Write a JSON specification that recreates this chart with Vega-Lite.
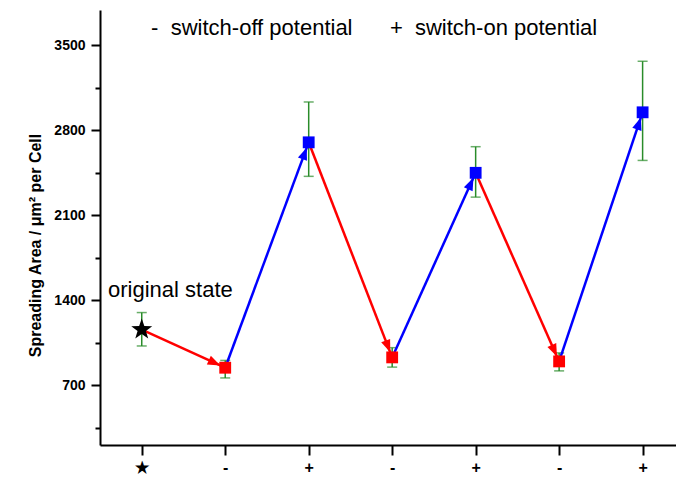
{
  "$schema": "https://vega.github.io/schema/vega-lite/v6.json",
  "width": 576,
  "height": 435,
  "autosize": {"type": "none"},
  "padding": {"left": 100, "top": 10, "right": 0, "bottom": 33},
  "background": "white",
  "config": {
    "view": {"stroke": null},
    "font": "Liberation Sans",
    "axis": {
      "grid": false,
      "domainColor": "black",
      "domainWidth": 2,
      "tickColor": "black",
      "tickWidth": 2,
      "labelColor": "black",
      "labelFont": "Liberation Sans",
      "labelFontWeight": "bold",
      "labelFontSize": 14,
      "titleColor": "black",
      "titleFont": "Liberation Sans"
    }
  },
  "datasets": {
    "points": [
      {"step": 1, "kind": "original", "area": 1160, "low": 1025, "high": 1300},
      {"step": 2, "kind": "off", "area": 846, "low": 762, "high": 906},
      {"step": 3, "kind": "on", "area": 2701, "low": 2421, "high": 3033},
      {"step": 4, "kind": "off", "area": 931, "low": 851, "high": 1011},
      {"step": 5, "kind": "on", "area": 2450, "low": 2250, "high": 2665},
      {"step": 6, "kind": "off", "area": 898, "low": 820, "high": 968},
      {"step": 7, "kind": "on", "area": 2948, "low": 2552, "high": 3368}
    ],
    "notes": [
      {"text": "original state", "tx": 0.596, "ty": 1425},
      {"text": "-", "tx": 1.111, "ty": 3585},
      {"text": "switch-off potential", "tx": 1.347, "ty": 3585},
      {"text": "+", "tx": 3.974, "ty": 3585},
      {"text": "switch-on potential", "tx": 4.273, "ty": 3585}
    ]
  },
  "layer": [
    {
      "data": {"name": "points"},
      "mark": {"type": "rule", "strokeWidth": 1.5, "color": "#2a8c2a"},
      "encoding": {
        "x": {
          "field": "step", "type": "quantitative",
          "scale": {"domain": [0.5, 7.4], "nice": false, "zero": false},
          "axis": {
            "values": [1, 2, 3, 4, 5, 6, 7],
            "labelExpr": "datum.value == 1 ? '★' : (datum.value % 2 == 0 ? '-' : '+')",
            "labelFontSize": 16,
            "tickSize": 10,
            "labelPadding": 4,
            "title": null
          }
        },
        "y": {
          "field": "low", "type": "quantitative",
          "scale": {"domain": [210, 3790], "nice": false, "zero": false},
          "axis": {
            "values": [350, 700, 1050, 1400, 1750, 2100, 2450, 2800, 3150, 3500],
            "labelExpr": "datum.value % 700 == 0 ? datum.label : ''",
            "format": "d",
            "tickSize": {"condition": {"test": "datum.value % 700 == 0", "value": 9}, "value": 5},
            "labelPadding": 6,
            "title": "Spreading Area / μm² per Cell",
            "titleFontSize": 16,
            "titleFontWeight": "bold",
            "titleAngle": -90,
            "titleX": -60,
            "titleY": 235,
            "titleAlign": "center",
            "titleBaseline": "alphabetic"
          }
        },
        "y2": {"field": "high"}
      }
    },
    {
      "data": {"name": "points"},
      "mark": {"type": "tick", "orient": "horizontal", "size": 10, "thickness": 1.5, "color": "#2a8c2a"},
      "encoding": {
        "x": {"field": "step", "type": "quantitative"},
        "y": {"field": "low", "type": "quantitative"}
      }
    },
    {
      "data": {"name": "points"},
      "mark": {"type": "tick", "orient": "horizontal", "size": 10, "thickness": 1.5, "color": "#2a8c2a"},
      "encoding": {
        "x": {"field": "step", "type": "quantitative"},
        "y": {"field": "high", "type": "quantitative"}
      }
    },
    {
      "data": {"name": "notes"},
      "mark": {"type": "text", "align": "left", "baseline": "alphabetic", "fontSize": 22, "font": "Liberation Sans", "color": "black"},
      "encoding": {
        "x": {"field": "tx", "type": "quantitative"},
        "y": {"field": "ty", "type": "quantitative"},
        "text": {"field": "text"}
      }
    },
    {
      "data": {"name": "points"},
      "transform": [
        {"window": [
          {"op": "lead", "field": "step", "as": "nstep"},
          {"op": "lead", "field": "area", "as": "narea"},
          {"op": "lead", "field": "kind", "as": "nkind"}
        ], "sort": [{"field": "step"}], "frame": [null, null]},
        {"filter": "datum.nstep != null"}
      ],
      "mark": {"type": "rule", "strokeWidth": 2.5},
      "encoding": {
        "x": {"field": "step", "type": "quantitative"},
        "y": {"field": "area", "type": "quantitative"},
        "x2": {"field": "nstep"},
        "y2": {"field": "narea"},
        "color": {"field": "nkind", "type": "nominal", "scale": {"domain": ["off", "on"], "range": ["#ff0000", "#0000ff"]}, "legend": null}
      }
    },
    {
      "data": {"name": "points"},
      "transform": [{"filter": "datum.kind == 'original'"}],
      "mark": {"type": "point", "shape": "M0,-1L0.235,-0.324L0.951,-0.309L0.38,0.124L0.588,0.809L0,0.4L-0.588,0.809L-0.38,0.124L-0.951,-0.309L-0.235,-0.324Z", "filled": true, "opacity": 1, "size": 484, "color": "black", "strokeWidth": 0},
      "encoding": {
        "x": {"field": "step", "type": "quantitative"},
        "y": {"field": "area", "type": "quantitative"}
      }
    },
    {
      "data": {"name": "points"},
      "transform": [{"filter": "datum.kind != 'original'"}],
      "mark": {"type": "point", "shape": "square", "filled": true, "opacity": 1, "size": 140, "strokeWidth": 0},
      "encoding": {
        "x": {"field": "step", "type": "quantitative"},
        "y": {"field": "area", "type": "quantitative"},
        "color": {"field": "kind", "type": "nominal", "scale": {"domain": ["off", "on"], "range": ["#ff0000", "#0000ff"]}, "legend": null}
      }
    },
    {
      "data": {"name": "points"},
      "transform": [
        {"window": [
          {"op": "lead", "field": "step", "as": "nstep"},
          {"op": "lead", "field": "area", "as": "narea"},
          {"op": "lead", "field": "kind", "as": "nkind"}
        ], "sort": [{"field": "step"}], "frame": [null, null]},
        {"filter": "datum.nstep != null"},
        {"calculate": "atan2((datum.nstep - datum.step) * 83.478, (datum.narea - datum.area) * 0.12151) * 180 / PI", "as": "heading"}
      ],
      "mark": {"type": "point", "filled": true, "opacity": 1, "size": 576, "strokeWidth": 0, "shape": "M0,0.45L0.4,1.5L-0.4,1.5Z"},
      "encoding": {
        "x": {"field": "nstep", "type": "quantitative"},
        "y": {"field": "narea", "type": "quantitative"},
        "angle": {"field": "heading", "type": "quantitative", "scale": null},
        "color": {"field": "nkind", "type": "nominal", "scale": {"domain": ["off", "on"], "range": ["#ff0000", "#0000ff"]}, "legend": null}
      }
    }
  ]
}
